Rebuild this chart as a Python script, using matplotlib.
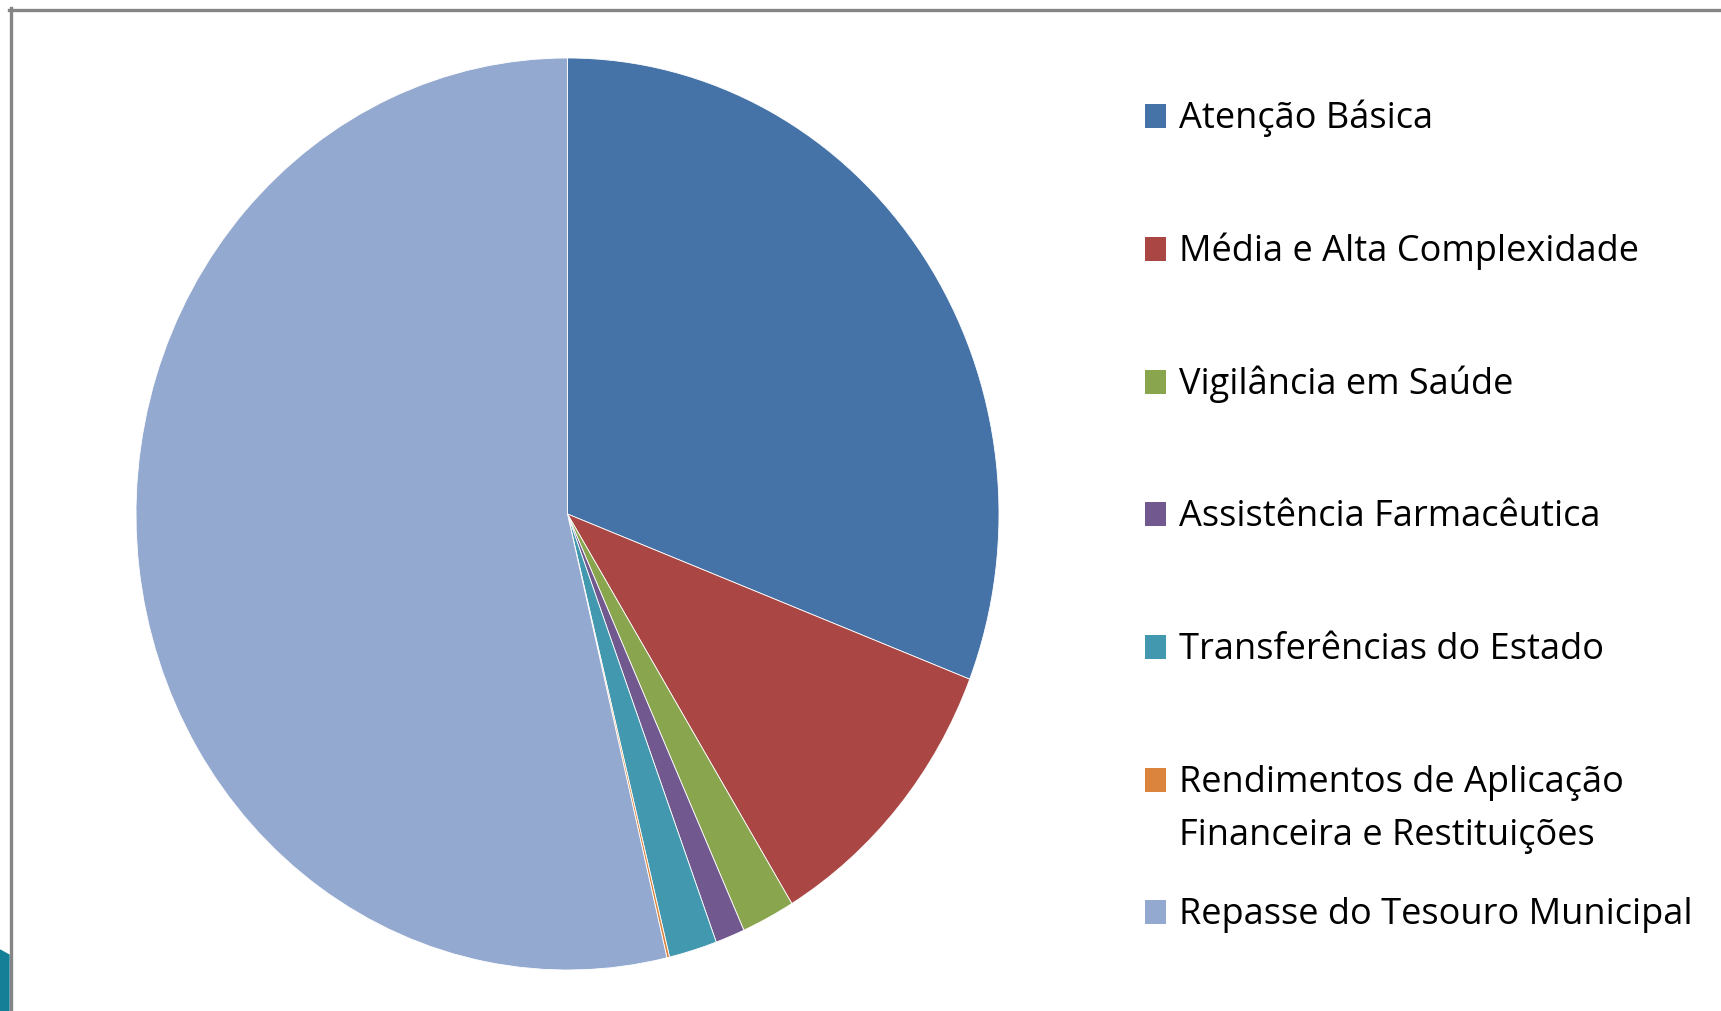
import matplotlib
matplotlib.use("Agg")
import matplotlib.pyplot as plt
from matplotlib.patches import Rectangle, Polygon
from matplotlib.lines import Line2D

categories = ["Atenção Básica", "Média e Alta Complexidade", "Vigilância em Saúde",
              "Assistência Farmacêutica", "Transferências do Estado",
              "Rendimentos de Aplicação\nFinanceira e Restituições",
              "Repasse do Tesouro Municipal"]
values = [30.9, 10.4, 2.0, 1.1, 1.8, 0.1, 53.7]
colors = ["#4572A7", "#AA4643", "#89A54E", "#71588F", "#4198AF", "#DB843D", "#93A9CF"]

W, H = 1721, 1011
fig = plt.figure(figsize=(W / 100, H / 100), dpi=100)
fig.patch.set_facecolor("white")

# pie axes (bounding box of the slightly stretched pie)
px0, px1, py0, py1 = 136, 999, 58, 970
ax = fig.add_axes([px0 / W, 1 - py1 / H, (px1 - px0) / W, (py1 - py0) / H])
ax.pie(values, colors=colors, startangle=90, counterclock=False, radius=1,
       wedgeprops=dict(edgecolor="white", linewidth=0.6))
ax.set_aspect("auto")
ax.set_xlim(-1, 1)
ax.set_ylim(-1, 1)
ax.axis("off")

# frame
fig.add_artist(Line2D([9 / W, 1], [1 - 9.5 / H, 1 - 9.5 / H], color="#858585", lw=2.4,
                      transform=fig.transFigure))
fig.add_artist(Line2D([10.5 / W, 10.5 / W], [1 - 8 / H, 0], color="#858585", lw=2.4,
                      transform=fig.transFigure))
# small decoration at bottom-left
fig.add_artist(Polygon([[0, 1 - 950 / H], [9 / W, 1 - 955 / H], [9 / W, 0], [0, 0]],
                       closed=True, color="#167F98", transform=fig.transFigure))

# legend
baselines = [128, 261, 394, 526, 659, 792, 924]
mx, mw, mh = 1145, 21, 24
tx = 1179
for lab, col, b in zip(categories, colors, baselines):
    fig.add_artist(Rectangle((mx / W, 1 - b / H), mw / W, mh / H, facecolor=col,
                             edgecolor="none", transform=fig.transFigure))
    lines = lab.split("\n")
    for i, ln in enumerate(lines):
        fig.text(tx / W, 1 - (b + 53 * i) / H, ln, fontsize=26, family="Open Sans",
                 color="#000000", ha="left", va="baseline")

fig.savefig("out.png", dpi=100)
